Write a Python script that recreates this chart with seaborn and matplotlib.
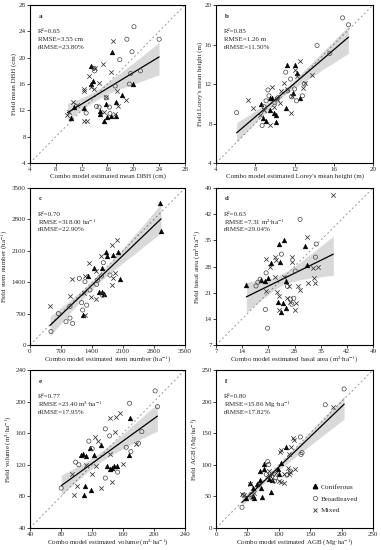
import numpy as np
import pandas as pd
import seaborn as sns
import matplotlib
matplotlib.use("Agg")
import matplotlib.pyplot as plt
from matplotlib.lines import Line2D

sns.set_style("white")
plt.rcParams['font.family'] = ['Liberation Serif', 'DejaVu Serif']
plt.rcParams['mathtext.fontset'] = 'stix'

# ---- panel a: mean DBH (cm)
a_con_x = [10.4, 10.8, 12.3, 13.4, 13.5, 13.7, 14.8, 14.9, 15.4, 15.8, 16.0, 16.5, 16.7, 17.3, 17.3, 18.2, 19.9]
a_con_y = [10.9, 12.5, 12.3, 18.8, 16.0, 16.4, 11.9, 11.5, 10.4, 12.9, 11.0, 11.1, 20.9, 13.2, 11.2, 14.4, 16.0]
a_brd_x = [12.7, 13.9, 14.0, 14.3, 14.7, 15.8, 16.3, 16.4, 17.2, 17.9, 19.0, 20.1, 19.8, 19.6, 19.4, 21.1, 24.0]
a_brd_y = [11.6, 18.4, 18.0, 12.6, 12.5, 13.9, 12.5, 11.5, 15.7, 19.7, 22.8, 24.7, 20.9, 17.6, 16.0, 18.0, 22.8]
a_mix_x = [9.8, 10.0, 10.7, 11.3, 12.3, 12.4, 12.4, 12.9, 13.2, 13.4, 13.9, 14.0, 14.7, 15.3, 15.5, 15.8, 16.5,
           16.8, 17.1, 17.5, 17.7, 18.9]
a_mix_y = [11.3, 11.8, 13.2, 12.8, 15.0, 15.3, 10.4, 10.4, 17.2, 15.5, 15.3, 18.4, 16.1, 19.0, 11.7, 14.0, 17.9,
           22.6, 11.4, 14.9, 12.6, 13.6]

# ---- panel b: Lorey's mean height (m)
b_con_x = [8.6, 8.8, 9.1, 9.5, 9.5, 9.7, 9.9, 10.1, 10.1, 11.1, 11.2, 11.8, 12.1, 12.3, 12.6]
b_con_y = [10.0, 8.6, 8.3, 9.4, 10.6, 10.6, 9.1, 8.2, 8.9, 9.6, 13.9, 11.1, 13.9, 13.1, 10.6]
b_brd_x = [6.1, 8.7, 8.9, 9.1, 9.3, 9.4, 10.0, 10.3, 11.1, 11.3, 11.6, 11.7, 12.0, 12.2, 12.8, 13.0, 14.3,
           15.6, 16.9, 17.5]
b_brd_y = [9.1, 7.8, 9.7, 10.3, 11.4, 10.8, 10.1, 10.6, 13.2, 11.3, 12.5, 10.7, 11.5, 10.3, 10.8, 12.0, 15.9,
           15.1, 18.7, 18.0]
b_mix_x = [7.3, 7.8, 8.5, 8.9, 9.5, 9.7, 9.9, 10.2, 10.5, 10.6, 10.9, 11.2, 11.6, 11.7, 12.1, 12.3, 12.6,
           12.9, 13.1, 13.8]
b_mix_y = [10.4, 9.6, 8.9, 9.4, 7.8, 11.7, 9.7, 10.5, 10.1, 11.3, 12.1, 11.5, 9.1, 10.8, 13.4, 12.8, 14.3,
           11.6, 12.1, 12.9]

# ---- panel c: stem number (ha-1)
c_con_x = [1204, 1317, 1452, 1566, 1618, 1633, 1671, 1716, 1731, 1882, 1979, 2032, 2930, 2960]
c_con_y = [668, 1538, 1716, 1182, 1716, 1189, 1137, 2080, 1983, 1998, 2080, 1464, 3172, 2548]
c_brd_x = [474, 640, 813, 903, 903, 963, 1114, 1167, 1189, 1242, 1280, 1355, 1505, 1528, 1618, 1641, 1656, 1806]
c_brd_y = [300, 700, 520, 600, 860, 480, 1486, 943, 780, 1412, 889, 1226, 1352, 1449, 1538, 1107, 1835, 1560]
c_mix_x = [452, 903, 956, 1227, 1242, 1242, 1332, 1377, 1483, 1490, 1603, 1844, 1844, 1866, 1919, 1957]
c_mix_y = [880, 1093, 1464, 1167, 668, 1538, 1835, 1078, 1033, 1657, 1983, 2229, 1338, 1501, 1605, 2340]

# ---- panel d: basal area (m2 ha-1)
d_con_x = [15.1, 18.9, 20.9, 20.2, 21.8, 23.9, 25.1, 24.2, 25.6, 23.6, 24.8, 25.6, 24.3, 30.7, 31.4]
d_con_y = [23.0, 24.5, 25.0, 24.0, 29.0, 34.0, 35.1, 29.1, 24.1, 18.6, 18.2, 17.0, 15.9, 33.5, 28.5]
d_brd_x = [17.7, 18.2, 18.8, 20.4, 24.5, 26.1, 26.9, 27.8, 28.2, 33.6, 33.8, 20.2, 20.8, 29.5, 27.3]
d_brd_y = [22.8, 23.8, 24.6, 26.3, 31.3, 22.7, 19.3, 19.5, 26.8, 30.5, 34.0, 16.5, 11.5, 40.6, 17.9]
d_mix_x = [20.4, 22.7, 21.5, 23.1, 27.2, 27.3, 31.4, 38.4, 20.5, 22.9, 23.3, 25.1, 26.4, 28.9, 29.6, 32.9,
           34.3, 23.8, 26.0, 26.9, 28.4, 31.6, 33.4, 33.1, 28.2, 23.8]
d_mix_y = [30.0, 30.5, 28.0, 29.7, 30.6, 29.1, 36.0, 47.0, 21.5, 25.1, 21.3, 25.1, 22.7, 22.7, 21.8, 27.5,
           28.0, 20.0, 19.5, 18.6, 18.2, 23.5, 23.5, 25.0, 16.3, 16.3]

# ---- panel e: volume (m3 ha-1)
e_con_x = [105.2, 108.2, 111.7, 116.8, 122.8, 132.2, 110.8, 110.0, 118.1, 139.4, 142.8, 145.8, 148.8, 152.2,
           167.2, 168.5]
e_con_y = [132.6, 133.5, 131.4, 141.2, 132.6, 145.1, 92.7, 82.2, 88.7, 117.9, 115.0, 115.8, 117.9, 117.9,
           131.8, 179.0]
e_brd_x = [80.3, 103.0, 98.8, 116.0, 137.2, 142.8, 168.5, 201.5, 204.5, 184.3, 180.0, 170.2, 153.0, 164.2,
           137.2, 120.2]
e_brd_y = [90.5, 120.0, 123.4, 150.0, 165.5, 156.6, 197.9, 213.5, 193.7, 162.0, 147.3, 136.7, 110.7, 142.2,
           103.2, 140.4]
e_mix_x = [93.7, 111.7, 123.7, 128.0, 143.6, 151.3, 156.5, 143.6, 150.0, 177.0, 160.0, 101.0, 96.7, 120.2,
           125.4, 145.8, 131.0]
e_mix_y = [108.7, 120.1, 155.1, 149.7, 133.5, 181.0, 186.0, 179.0, 161.3, 146.4, 120.8, 92.7, 82.2, 108.7,
           118.0, 98.0, 90.5]

# ---- panel f: AGB (Mg ha-1)
f_con_x = [47.8, 58.9, 58.4, 60.0, 71.7, 75.9, 75.9, 70.6, 69.5, 83.9, 87.6, 89.2, 99.8, 103.5, 98.7, 112.0,
           53.6, 65.3, 73.2]
f_con_y = [47.7, 50.3, 62.5, 47.7, 62.5, 92.7, 101.7, 90.0, 75.2, 76.8, 57.2, 75.2, 84.7, 103.3, 92.7, 128.2,
           71.5, 69.9, 48.7]
f_brd_x = [41.4, 44.0, 55.7, 82.3, 83.9, 80.1, 92.9, 94.5, 85.5, 113.0, 118.4, 134.3, 135.3, 137.0, 174.0,
           204.0, 57.3]
f_brd_y = [32.8, 52.0, 53.0, 104.9, 100.6, 84.7, 74.2, 79.4, 82.1, 83.7, 90.0, 144.0, 116.5, 119.2, 195.0,
           220.0, 47.7]
f_mix_x = [44.0, 41.4, 54.7, 60.0, 67.9, 85.5, 83.9, 89.2, 101.4, 103.5, 115.7, 119.4, 114.1, 108.8, 123.7,
           122.6, 115.7, 126.3, 118.4, 99.8, 103.5, 107.7, 95.0, 186.3]
f_mix_y = [52.0, 54.0, 68.9, 55.6, 68.9, 82.1, 90.0, 85.8, 120.8, 122.9, 117.6, 128.2, 94.3, 84.7, 138.8,
           143.0, 84.7, 92.7, 89.0, 74.2, 73.1, 71.5, 86.9, 191.7]

a_ticks = [4, 8, 12, 16, 20, 24, 28]
b_ticks = [4, 8, 12, 16, 20]
c_ticks = [0, 700, 1400, 2100, 2800, 3500]
d_ticks = [7, 14, 21, 28, 35, 42, 49]
e_ticks = [40, 80, 120, 160, 200, 240]
f_ticks = [0, 50, 100, 150, 200, 250]

FS = 5.0


def draw_panel(ax, con, brd, mix, ticks, letter, stats, xlabel, ylabel, legend=False):
    groups = [('Coniferous', con), ('Broadleaved', brd), ('Mixed', mix)]
    df = pd.concat([pd.DataFrame({'est': g[0], 'field': g[1], 'type': name}) for name, g in groups],
                   ignore_index=True)
    lo, hi = ticks[0], ticks[-1]
    ax.plot([lo, hi], [lo, hi], ls=(0, (2, 2.5)), color='#9a9a9a', lw=0.7, zorder=1)
    sns.regplot(data=df, x='est', y='field', scatter=False, ci=95, ax=ax, color='black',
                line_kws={'lw': 0.9, 'zorder': 4})
    sub = df[df.type == 'Coniferous']
    sns.scatterplot(data=sub, x='est', y='field', marker='^', s=12, color='black', edgecolor='black',
                    linewidth=0.3, ax=ax, zorder=5)
    sub = df[df.type == 'Broadleaved']
    sns.scatterplot(data=sub, x='est', y='field', marker='o', s=9, facecolor='none', edgecolor='#444444',
                    linewidth=0.5, ax=ax, zorder=5)
    sub = df[df.type == 'Mixed']
    sns.scatterplot(data=sub, x='est', y='field', marker='x', s=10, color='#333333', linewidth=0.55,
                    ax=ax, zorder=5)
    ax.set_xlim(lo, hi)
    ax.set_ylim(lo, hi)
    ax.set_xticks(ticks)
    ax.set_yticks(ticks)
    ax.set_xlabel(xlabel, fontsize=FS, labelpad=0.5)
    ax.set_ylabel(ylabel, fontsize=FS, labelpad=1)
    ax.tick_params(labelsize=FS, length=2, width=0.6, pad=1, direction='out',
                   bottom=True, left=True)
    for sp in ax.spines.values():
        sp.set_color('black')
        sp.set_linewidth(0.8)
    ax.text(0.055, 0.93, letter, transform=ax.transAxes, fontsize=FS, fontweight='bold', va='center')
    for i, s in enumerate(stats):
        ax.text(0.05, 0.83 - i * 0.048, s, transform=ax.transAxes, fontsize=FS, va='center')
    if legend:
        handles = [Line2D([], [], marker='^', ls='', color='black', ms=3.2),
                   Line2D([], [], marker='o', ls='', mfc='none', mec='#444444', ms=3, mew=0.5),
                   Line2D([], [], marker='x', ls='', color='#333333', ms=3, mew=0.6)]
        ax.legend(handles, ['Coniferous', 'Broadleaved', 'Mixed'], loc='lower right', frameon=False,
                  fontsize=FS + 0.3, handletextpad=0.3, labelspacing=0.75, borderaxespad=1.6,
                  handlelength=1.0)


fig = plt.figure(figsize=(3.81, 5.5), dpi=100)
ax_a = fig.add_axes([0.0787, 0.7036, 0.4068, 0.2873])
ax_b = fig.add_axes([0.567, 0.7036, 0.412, 0.2873])
ax_c = fig.add_axes([0.0787, 0.3727, 0.4068, 0.2855])
ax_d = fig.add_axes([0.567, 0.3727, 0.412, 0.2855])
ax_e = fig.add_axes([0.0787, 0.0400, 0.4068, 0.2873])
ax_f = fig.add_axes([0.567, 0.0400, 0.412, 0.2873])

draw_panel(ax_a, (a_con_x, a_con_y), (a_brd_x, a_brd_y), (a_mix_x, a_mix_y), a_ticks, 'a',
           ['R²=0.65', 'RMSE=3.55 cm', 'rRMSE=23.80%'],
           'Combo model estimated mean DBH (cm)', 'Field mean DBH (cm)')
draw_panel(ax_b, (b_con_x, b_con_y), (b_brd_x, b_brd_y), (b_mix_x, b_mix_y), b_ticks, 'b',
           ['R²=0.85', 'RMSE=1.26 m', 'rRMSE=11.50%'],
           "Combo model estimated Lorey's mean height (m)", "Field Lorey's mean height (m)")
draw_panel(ax_c, (c_con_x, c_con_y), (c_brd_x, c_brd_y), (c_mix_x, c_mix_y), c_ticks, 'c',
           ['R²=0.70', r'RMSE=318.00 ha$^{-1}$', 'rRMSE=22.90%'],
           r'Combo model estimated stem number (ha$^{-1}$)', r'Field stem number (ha$^{-1}$)')
draw_panel(ax_d, (d_con_x, d_con_y), (d_brd_x, d_brd_y), (d_mix_x, d_mix_y), d_ticks, 'd',
           ['R²=0.63', r'RMSE=7.31 m²·ha$^{-1}$', 'rRMSE=29.04%'],
           r'Combo model estimated basal area (m²·ha$^{-1}$)', r'Field basal area (m²·ha$^{-1}$)')
draw_panel(ax_e, (e_con_x, e_con_y), (e_brd_x, e_brd_y), (e_mix_x, e_mix_y), e_ticks, 'e',
           ['R²=0.77', r'RMSE=23.40 m³·ha$^{-1}$', 'rRMSE=17.95%'],
           r'Combo model estimated volume (m³·ha$^{-1}$)', r'Field volume (m³·ha$^{-1}$)')
draw_panel(ax_f, (f_con_x, f_con_y), (f_brd_x, f_brd_y), (f_mix_x, f_mix_y), f_ticks, 'f',
           ['R²=0.80', r'RMSE=15.86 Mg·ha$^{-1}$', 'rRMSE=17.82%'],
           r'Combo model estimated AGB (Mg·ha$^{-1}$)', r'Field AGB (Mg·ha$^{-1}$)', legend=True)

fig.savefig('out.png', dpi=100)
